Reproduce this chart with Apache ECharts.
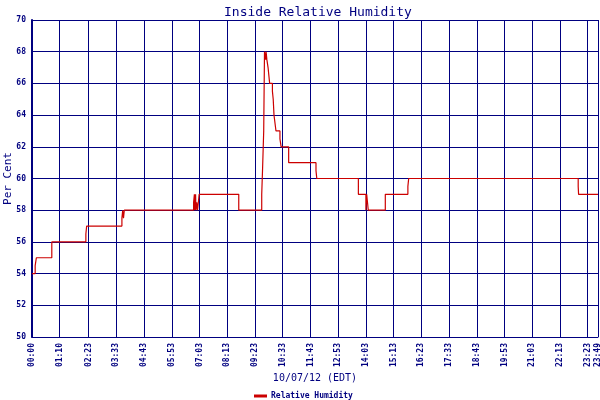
<!DOCTYPE html>
<html>
<head>
<meta charset="utf-8">
<script src="https://cdn.jsdelivr.net/npm/echarts@6/dist/echarts.min.js"></script>
<style>html,body{margin:0;padding:0;background:#fff;}#c{width:600px;height:400px;}</style>
</head>
<body>
<div id="c"></div>
<script>
// time of each reading, minutes after midnight
const rhMinutes = [0, 8, 11, 50, 136, 138, 227, 229, 231, 233, 408, 410, 411, 413, 414, 416, 418, 420, 422,
  522, 580, 582, 585, 587, 590, 591, 593, 596, 600, 607, 609, 611, 616, 626, 629, 648, 717, 719,
  824, 843, 845, 847, 849, 892, 949, 951, 1379, 1380, 1429];
// relative humidity, per cent
const rhValues = [54, 54.5, 55, 56, 56.5, 57, 57.5, 58, 57.5, 58, 58.5, 59, 58, 59, 58, 58.5, 58, 58.5, 59,
  58, 59, 60.5, 63, 68, 67.5, 68, 67.5, 67, 66, 65.5, 65, 64, 63, 62.5, 62, 61, 60.5, 60,
  59, 58, 59, 58.5, 58, 59, 59.5, 60, 59.5, 59, 59];
const xTickLabels = ['00:00','01:10','02:23','03:33','04:43','05:53','07:03','08:13','09:23','10:33','11:43',
  '12:53','14:03','15:13','16:23','17:33','18:43','19:53','21:03','22:13','23:23','23:49'];
const yMin = 50, yMax = 70, yStep = 2;

const toMin = s => { const p = s.split(':'); return (+p[0]) * 60 + (+p[1]); };
const xTickValues = xTickLabels.map(toMin);
const navy = '#000080';
const mono = 'DejaVu Sans Mono';

const chart = echarts.init(document.getElementById('c'), null, {renderer: 'canvas'});
chart.setOption({
  animation: false,
  backgroundColor: '#ffffff',
  title: {
    text: 'Inside Relative Humidity',
    left: 219, top: 1,
    textStyle: {fontFamily: mono, fontSize: 13, fontWeight: 'normal', color: navy}
  },
  legend: {
    left: 249, top: 387,
    itemWidth: 13, itemHeight: 3, itemGap: 4,
    icon: 'rect',
    data: [{name: 'Relative Humidity', itemStyle: {color: '#CC0000'}}],
    textStyle: {fontFamily: mono, fontSize: 8, fontWeight: 'bold', color: navy, padding: [0,0,0,-1]}
  },
  grid: {left: 32, right: 2, top: 20, bottom: 63, containLabel: false, outerBoundsMode: 'none'},
  xAxis: {
    type: 'value', min: 0, max: xTickValues[xTickValues.length - 1],
    name: '10/07/12 (EDT)', nameLocation: 'middle', nameGap: 36, nameMoveOverlap: false,
    nameTextStyle: {fontFamily: mono, fontSize: 10, color: navy},
    axisLine: {show: true, lineStyle: {color: navy, width: 1}},
    axisTick: {show: false, customValues: xTickValues},
    axisLabel: {
      customValues: xTickValues, rotate: 90, margin: 6,
      fontFamily: mono, fontSize: 8, fontWeight: 'bold', color: navy,
      formatter: v => { const i = xTickValues.indexOf(v); return i >= 0 ? xTickLabels[i] : ''; }
    },
    splitLine: {show: true, lineStyle: {color: navy, width: 1}}
  },
  yAxis: {
    type: 'value', min: yMin, max: yMax, interval: yStep,
    name: 'Per Cent', nameLocation: 'middle', nameGap: 18, nameRotate: 90, nameMoveOverlap: false,
    nameTextStyle: {fontFamily: mono, fontSize: 11, color: navy},
    axisLine: {show: true, lineStyle: {color: navy, width: 2}},
    axisTick: {show: false},
    axisLabel: {margin: 6, fontFamily: mono, fontSize: 8, fontWeight: 'bold', color: navy},
    splitLine: {show: true, lineStyle: {color: navy, width: 1}}
  },
  series: [{
    name: 'Relative Humidity', type: 'line', step: 'end', showSymbol: false,
    lineStyle: {color: '#CC0000', width: 1.2},
    itemStyle: {color: '#CC0000'},
    data: rhMinutes.map((m, i) => [m, rhValues[i]])
  }]
});
</script>
</body>
</html>
